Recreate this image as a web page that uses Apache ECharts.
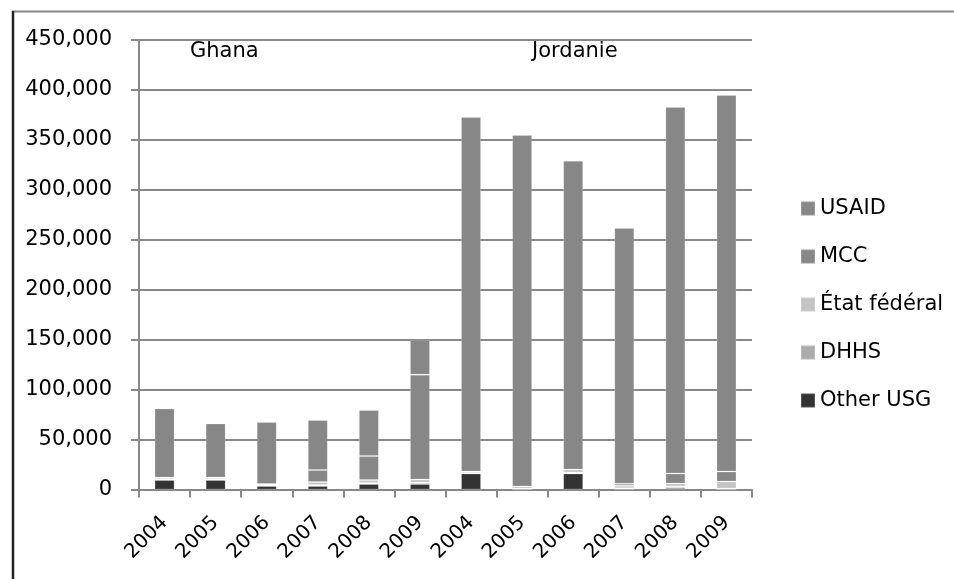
<!DOCTYPE html>
<html>
<head>
<meta charset="utf-8">
<script src="https://cdn.jsdelivr.net/npm/echarts@6/dist/echarts.min.js"></script>
<style>
	html, body { margin: 0; padding: 0; background: #fff; }
	#chart_aid { width: 954px; height: 579px; }
</style>
</head>
<body>
<div id="chart_aid"></div>
<script>
// Ghana 2004-2009 puis Jordanie 2004-2009
var years = ['2004', '2005', '2006', '2007', '2008', '2009', '2004', '2005', '2006', '2007', '2008', '2009'];

var otherUSG = [9500, 9500, 3500, 3500, 5500, 5500, 16000, 0, 16000, 300, 1500, 0];
var dhhs = [1000, 1000, 1000, 1000, 1000, 1500, 500, 1000, 1000, 1000, 1500, 1000];
var etatFederal = [1500, 1500, 1000, 3000, 3000, 3000, 1500, 2000, 3000, 2500, 3000, 7000];
var mcc = [0, 0, 0, 12000, 24000, 105000, 0, 0, 0, 2000, 10000, 10000];
var usaid = [69000, 54000, 62000, 50000, 46000, 35000, 355000, 352000, 309000, 256000, 367000, 377000];

var yTicks = [0, 50000, 100000, 150000, 200000, 250000, 300000, 350000, 400000, 450000];

var fontFamily = 'DejaVu Sans';

var addCommas = function(v) {
	return String(v).replace(/\B(?=(\d{3})+(?!\d))/g, ',');
};

var makeBar = function(name, data, color) {
	return {
		name: name,
		type: 'bar',
		stack: 'total',
		barWidth: 20,
		itemStyle: {
			color: color,
			borderColor: 'rgba(255,255,255,0.18)',
			borderWidth: 1
		},
		data: data
	};
};

(function() {
	var option_aid = {
		animation: false,
		textStyle: { fontFamily: fontFamily },
		grid: {
			left: 139,
			right: 202,
			top: 40,
			bottom: 89.5
		},
		legend: {
			orient: 'vertical',
			left: 795,
			top: 193,
			itemWidth: 14,
			itemHeight: 14,
			itemGap: 27,
			icon: 'rect',
			textStyle: { fontSize: 21, color: '#000', fontFamily: fontFamily },
			data: ['USAID', 'MCC', 'État fédéral', 'DHHS', 'Other USG']
		},
		xAxis: [
			{
				type: 'category',
				data: years,
				axisLine: { lineStyle: { color: '#888', width: 2 } },
				axisTick: { show: true, length: 8, lineStyle: { color: '#888', width: 2 } },
				axisLabel: {
					rotate: 45,
					margin: 30,
					fontSize: 20,
					color: '#000',
					interval: 0
				}
			}
		],
		yAxis: [
			{
				type: 'value',
				min: yTicks[0],
				max: yTicks[yTicks.length - 1],
				interval: yTicks[1] - yTicks[0],
				axisLine: { show: true, lineStyle: { color: '#888', width: 2 } },
				axisTick: { show: true, length: 8, lineStyle: { color: '#888', width: 2 } },
				splitLine: { lineStyle: { color: '#888', width: 2 } },
				axisLabel: {
					margin: 27,
					fontSize: 21,
					color: '#000',
					formatter: function(v) { return addCommas(v); }
				}
			}
		],
		graphic: [
			{ type: 'line', shape: { x1: 12, y1: 11.5, x2: 954, y2: 11.5 }, style: { stroke: '#888', lineWidth: 2 } },
			{ type: 'line', shape: { x1: 13, y1: 11, x2: 13, y2: 579 }, style: { stroke: '#222', lineWidth: 2.5 } },
			{ type: 'text', left: 190, top: 41, z: 10, style: { text: 'Ghana', fontSize: 21, fontFamily: fontFamily, fill: '#000' } },
			{ type: 'text', left: 532, top: 41, z: 10, style: { text: 'Jordanie', fontSize: 21, fontFamily: fontFamily, fill: '#000' } }
		],
		series: [
			makeBar('Other USG', otherUSG, '#333333'),
			makeBar('DHHS', dhhs, '#ababab'),
			makeBar('État fédéral', etatFederal, '#c4c4c4'),
			makeBar('MCC', mcc, '#878787'),
			makeBar('USAID', usaid, '#878787')
		]
	};

	var chart_aid = echarts.init(document.getElementById('chart_aid'));
	chart_aid.setOption(option_aid, true);
})();
</script>
</body>
</html>
